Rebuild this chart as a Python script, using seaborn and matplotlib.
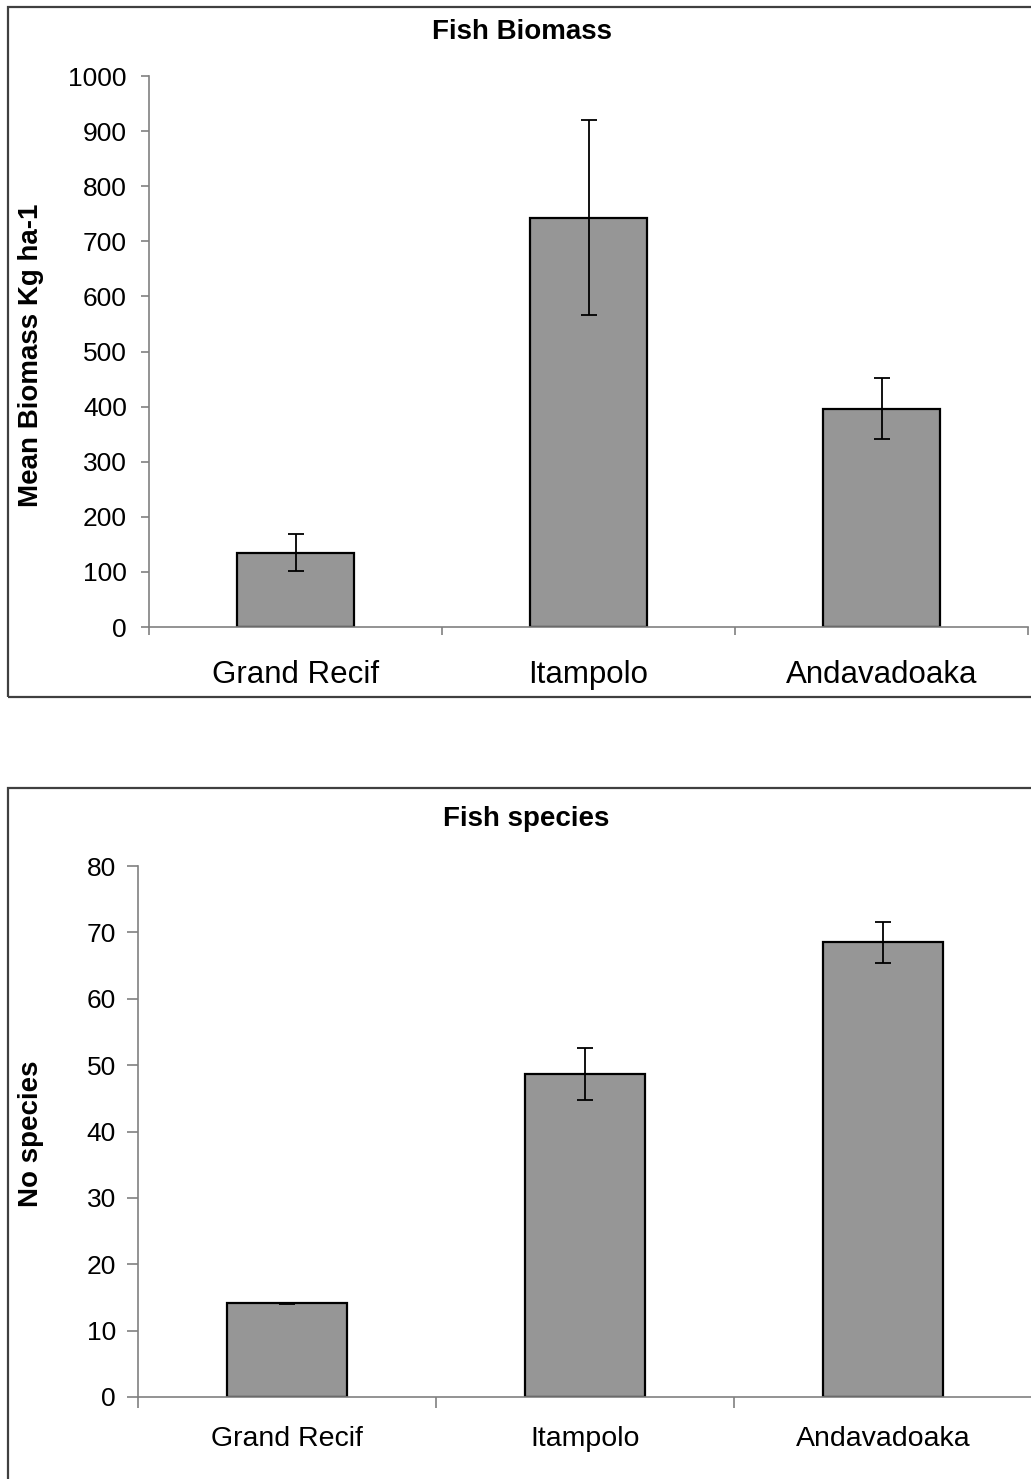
import matplotlib
matplotlib.use("Agg")
import matplotlib.pyplot as plt
import seaborn as sns
from matplotlib.patches import Rectangle
from matplotlib.ticker import FixedLocator, MultipleLocator

# data
sites = ["Grand Recif", "Itampolo", "Andavadoaka"]
biomass = [135, 743, 396]
biomass_err = [33, 177, 55]
species = [14.1, 48.7, 68.5]
species_err = [0.1, 3.9, 3.05]

sns.set_theme(style="white")
plt.rcParams["font.family"] = ["Liberation Sans", "DejaVu Sans"]
plt.rcParams["text.color"] = "black"
plt.rcParams["axes.labelcolor"] = "black"

W, H = 1031, 1479
fig = plt.figure(figsize=(W / 100, H / 100), dpi=100)

AXIS_GREY = "#808080"
BAR_GREY = "#969696"


def px_box(x0, y0, x1, y1):
    # pixel coords (top-left origin) -> figure fraction rect
    return [x0 / W, 1 - y1 / H, (x1 - x0) / W, (y1 - y0) / H]


def chart(rect, values, errors, ymax, ystep, title, ylabel, title_xy, ylabel_xy,
          ytick_size, xtick_size, ypad, xpad, ticklen):
    ax = fig.add_axes(px_box(*rect))
    sns.barplot(x=sites, y=values, color=BAR_GREY, saturation=1, width=0.4,
                edgecolor="black", linewidth=1.6, ax=ax)
    ax.errorbar(range(len(sites)), values, yerr=errors, fmt="none",
                ecolor="black", elinewidth=1.3, capsize=5.8, capthick=1.3)
    ax.set_xlim(-0.5, len(sites) - 0.5)
    ax.set_ylim(0, ymax)
    ax.yaxis.set_major_locator(MultipleLocator(ystep))
    ax.xaxis.set_minor_locator(FixedLocator([-0.5, 0.5, 1.5, 2.5]))
    for s in ["top", "right"]:
        ax.spines[s].set_visible(False)
    for s in ["left", "bottom"]:
        ax.spines[s].set_color(AXIS_GREY)
        ax.spines[s].set_linewidth(1.2)
    ax.tick_params(axis="y", which="major", direction="out", length=ticklen,
                   width=1.2, color=AXIS_GREY, labelsize=ytick_size, pad=ypad,
                   left=True, labelcolor="black")
    ax.tick_params(axis="x", which="major", length=0, labelsize=xtick_size,
                   pad=xpad, labelcolor="black")
    ax.tick_params(axis="x", which="minor", direction="out", length=ticklen,
                   width=1.2, color=AXIS_GREY, bottom=True)
    ax.set_xlabel("")
    ax.set_ylabel("")
    fig.text(title_xy[0] / W, 1 - title_xy[1] / H, title, ha="center", va="center",
             fontsize=20, fontweight="bold", color="black")
    fig.text(ylabel_xy[0] / W, 1 - ylabel_xy[1] / H, ylabel, ha="center",
             va="center", rotation=90, fontsize=20, fontweight="bold", color="black")
    return ax


chart((149, 76, 1028, 627), biomass, biomass_err, 1000, 100, "Fish Biomass",
      "Mean Biomass Kg ha-1", (522, 32), (31, 355), 19, 22.5, 10, 24, 6)
chart((138, 866, 1032, 1397), species, species_err, 80, 10, "Fish species",
      "No species", (526, 819), (31, 1134), 19, 20.5, 8, 21, 8)

# outer chart-area frames (cut off at the right / bottom in the reference)
for x0, y0, x1, y1 in [(8, 7, 1060, 697), (8, 788, 1060, 1520)]:
    fig.patches.append(Rectangle((x0 / W, 1 - y1 / H), (x1 - x0) / W, (y1 - y0) / H,
                                 transform=fig.transFigure, fill=False,
                                 edgecolor="#404040", linewidth=1.6))

fig.savefig("out.png", dpi=100, facecolor="white")
